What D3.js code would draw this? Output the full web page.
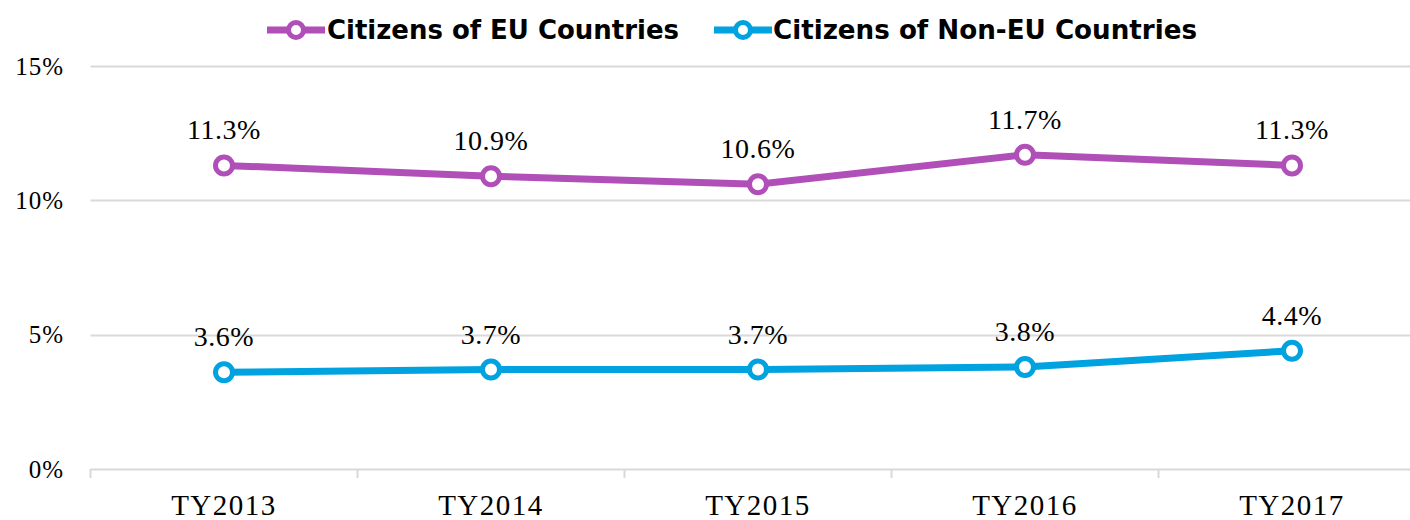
<!DOCTYPE html>
<html><head><meta charset="utf-8">
<script src="https://cdn.jsdelivr.net/npm/d3@7"></script>
<style>body{margin:0;background:#fff;}svg{display:block;}</style>
</head><body>
<svg id="c" width="1410" height="520"></svg>
<script>
const categories = ["TY2013","TY2014","TY2015","TY2016","TY2017"];
const euValues = [11.3, 10.9, 10.6, 11.7, 11.3];
const nonEuValues = [3.6, 3.7, 3.7, 3.8, 4.4];
const seriesNames = ["Citizens of EU Countries","Citizens of Non-EU Countries"];
const yTicks = [0, 5, 10, 15];

const colors = ["#B04FB8", "#00A2E0"];
const series = [
  {name: seriesNames[0], values: euValues, color: colors[0]},
  {name: seriesNames[1], values: nonEuValues, color: colors[1]}
];
const serif = "'Liberation Serif', 'Times New Roman', serif";

const svg = d3.select("#c");
const pLeft = 90.5, pRight = 1425.5, pTop = 66, pBottom = 469;
const x = d3.scaleBand().domain(categories).range([pLeft, pRight]);
const y = d3.scaleLinear().domain([0, 15]).range([pBottom, pTop]);

// gridlines
svg.append("g").selectAll("line").data(yTicks.filter(d => d > 0)).join("line")
  .attr("x1", pLeft).attr("x2", 1410)
  .attr("y1", d => Math.round(y(d)) + 0.5).attr("y2", d => Math.round(y(d)) + 0.5)
  .attr("stroke", "#d9d9d9").attr("stroke-width", 2);

// x axis
const xAxis = svg.append("g").attr("transform", `translate(0,${pBottom})`);
xAxis.append("line").attr("x1", pLeft).attr("x2", 1410).attr("y1", 0.5).attr("y2", 0.5)
  .attr("stroke", "#d9d9d9").attr("stroke-width", 2);
const boundaries = categories.map(c => x(c)).concat([x(categories[categories.length-1]) + x.bandwidth()]);
xAxis.selectAll("line.tk").data(boundaries).join("line").attr("class","tk")
  .attr("x1", d => d).attr("x2", d => d).attr("y1", 0).attr("y2", 9)
  .attr("stroke", "#d9d9d9").attr("stroke-width", 2);
xAxis.selectAll("text").data(categories).join("text")
  .attr("x", d => x(d) + x.bandwidth()/2).attr("y", 46)
  .attr("text-anchor", "middle")
  .attr("font-family", serif).attr("font-size", 29)
  .attr("letter-spacing", 1.5)
  .attr("fill", "#000").text(d => d);

// y labels
svg.append("g").selectAll("text").data(yTicks).join("text")
  .attr("x", 64).attr("y", d => y(d)).attr("dy", "0.35em")
  .attr("text-anchor", "end")
  .attr("font-family", serif).attr("font-size", 25)
  .attr("letter-spacing", 1)
  .attr("fill", "#000").text(d => d + "%");

const line = d3.line().x((d, i) => x(categories[i]) + x.bandwidth()/2).y(d => y(d));

series.forEach(s => {
  const g = svg.append("g");
  g.append("path").datum(s.values).attr("d", line)
    .attr("fill", "none").attr("stroke", s.color).attr("stroke-width", 7)
    .attr("stroke-linejoin", "round");
  g.selectAll("circle").data(s.values).join("circle")
    .attr("cx", (d, i) => x(categories[i]) + x.bandwidth()/2)
    .attr("cy", d => y(d)).attr("r", 8.5)
    .attr("fill", "#fff").attr("stroke", s.color).attr("stroke-width", 5);
  g.selectAll("text").data(s.values).join("text")
    .attr("x", (d, i) => x(categories[i]) + x.bandwidth()/2)
    .attr("y", d => y(d) - 26)
    .attr("text-anchor", "middle")
    .attr("font-family", serif).attr("font-size", 28)
    .attr("letter-spacing", 0.5)
    .attr("fill", "#000").text(d => d.toFixed(1) + "%");
});

// legend
const legendItems = [
  {name: seriesNames[0], color: colors[0], lx: 267, tx: 327, tw: 352},
  {name: seriesNames[1], color: colors[1], lx: 714, tx: 773, tw: 424}
];
const lg = svg.append("g");
legendItems.forEach(it => {
  lg.append("line").attr("x1", it.lx).attr("x2", it.lx + 58).attr("y1", 30).attr("y2", 30)
    .attr("stroke", it.color).attr("stroke-width", 7);
  lg.append("circle").attr("cx", it.lx + 29).attr("cy", 30).attr("r", 7.5)
    .attr("fill", "#fff").attr("stroke", it.color).attr("stroke-width", 5);
  lg.append("text").attr("x", it.tx).attr("y", 39)
    .attr("font-family", "'DejaVu Sans', Verdana, sans-serif").attr("font-weight", "bold")
    .attr("font-size", 27)
    .attr("textLength", it.tw).attr("lengthAdjust", "spacingAndGlyphs")
    .attr("fill", "#000").text(it.name);
});
</script>
</body></html>
